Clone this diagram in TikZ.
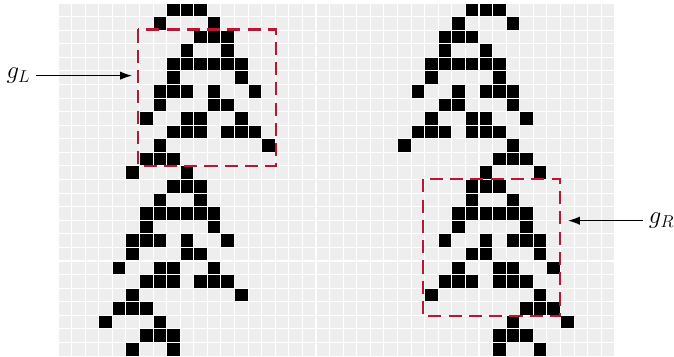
\documentclass[tikz,border=0pt]{standalone}
\usetikzlibrary{arrows.meta}
\definecolor{cellgray}{RGB}{237,238,237}
\definecolor{boxred}{RGB}{190,20,50}
\begin{document}
\begin{tikzpicture}[x=0.4cm,y=-0.4cm,
  gridline/.style={white,line width=0.9pt},
  glider/.style={draw=boxred,line width=2pt,dash pattern=on 11pt off 6pt},
  glabel/.style={font=\fontsize{20}{24}\selectfont,inner sep=5pt},
  pointer/.style={-{Latex[length=10pt,width=7pt]},line width=0.9pt}]
  \useasboundingbox (-4.27,-0.22) rectangle (45.36,26);
  \fill[cellgray] (0,0) rectangle (41,26);
  \foreach \r/\cs in {0/{8,9,10,30,31,32},1/{7,11,29,33},2/{10,11,12,28,29,30},
    3/{9,12,28,31},4/{8,9,10,11,12,13,27,28,29,30,31,32},5/{8,13,27,32},
    6/{7,8,9,11,14,26,29,31,32,33},7/{7,11,12,28,29,33},8/{6,9,10,13,27,30,31,34},
    9/{8,9,10,12,13,14,26,27,28,30,31,32},10/{7,15,25,33},11/{6,7,8,32,33,34},
    12/{5,9,31,35},13/{8,9,10,30,31,32},14/{7,10,30,33},
    15/{6,7,8,9,10,11,29,30,31,32,33,34},16/{6,11,29,34},
    17/{5,6,7,9,12,28,31,33,34,35},18/{5,9,10,30,31,35},19/{4,7,8,11,29,32,33,36},
    20/{6,7,8,10,11,12,28,29,30,32,33,34},21/{5,13,27,35},22/{4,5,6,34,35,36},
    23/{3,7,33,37},24/{6,7,8,32,33,34},25/{5,8,32,35}}{
    \foreach \c in \cs { \fill (\c,\r) rectangle +(1,1); }
  }
  \foreach \i in {0,...,41}{ \draw[gridline] (\i,0) -- (\i,26); }
  \foreach \j in {0,...,26}{ \draw[gridline] (0,\j) -- (41,\j); }
  \draw[glider] (5.9,1.95) rectangle (16.05,12);
  \draw[glider] (26.86,12.98) rectangle (36.97,23.03);
  \coordinate (tipL) at (5.45,5.35);
  \coordinate (tipR) at (37.55,16.03);
  \node[glabel] (gL) at (-2.91,5.35) {$g_L$};
  \node[glabel] (gR) at (44.44,16.03) {$g_R$};
  \draw[pointer] (gL) -- (tipL);
  \draw[pointer] (gR) -- (tipR);
\end{tikzpicture}
\end{document}
